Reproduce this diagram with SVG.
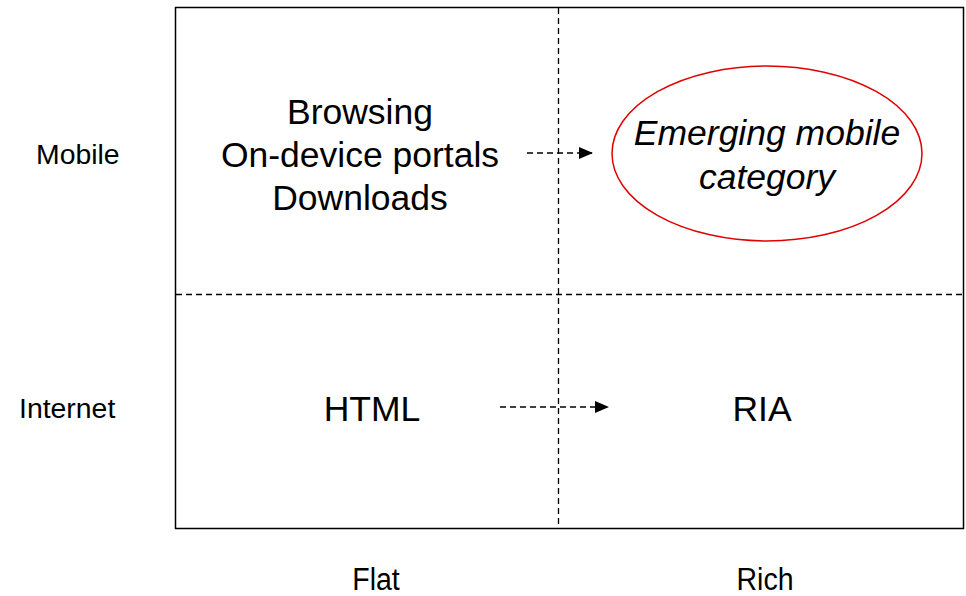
<svg xmlns="http://www.w3.org/2000/svg" width="966" height="596" viewBox="0 0 966 596">
<style>
text{font-family:"Liberation Sans",Arial,sans-serif;fill:#000}
.big{font-size:35.5px;text-anchor:middle}
.lab{font-size:28.4px}
.ax{font-size:31px;text-anchor:middle}
.dash{stroke:#000;stroke-width:1.3;stroke-dasharray:6,4;fill:none}
</style>
<defs>
<marker id="ah" markerWidth="14" markerHeight="12" refX="13" refY="6" orient="auto" markerUnits="userSpaceOnUse">
<path d="M0,0 L14,6 L0,12 Z" fill="#000"/>
</marker>
</defs>
<g id="frame">
<rect x="175.5" y="7.5" width="788" height="521" fill="none" stroke="#000" stroke-width="1.5"/>
<line class="dash" x1="558.5" y1="8" x2="558.5" y2="528"/>
<line class="dash" x1="176" y1="294.5" x2="963" y2="294.5"/>
</g>
<g id="connectors">
<line class="dash" x1="527" y1="153" x2="592" y2="153" marker-end="url(#ah)"/>
<line class="dash" x1="500" y1="407" x2="608" y2="407" marker-end="url(#ah)"/>
</g>
<g id="mobile-flat">
<text class="big" x="360" y="124">Browsing</text>
<text class="big" x="360" y="167">On-device portals</text>
<text class="big" x="360" y="210">Downloads</text>
</g>
<g id="mobile-rich">
<ellipse cx="767" cy="153.5" rx="155" ry="87.5" fill="none" stroke="#e00000" stroke-width="1.5"/>
<text class="big" x="767" y="145" font-style="italic">Emerging mobile</text>
<text class="big" x="767" y="189" font-style="italic">category</text>
</g>
<g id="internet-flat"><text class="big" x="372" y="421">HTML</text></g>
<g id="internet-rich"><text class="big" x="762" y="421">RIA</text></g>
<g id="row-labels">
<text class="lab" x="36" y="164">Mobile</text>
<text class="lab" x="19" y="418">Internet</text>
</g>
<g id="col-labels">
<text class="ax" x="376" y="590" transform="translate(376,0) scale(0.92,1) translate(-376,0)">Flat</text>
<text class="ax" x="765" y="590" transform="translate(765,0) scale(0.92,1) translate(-765,0)">Rich</text>
</g>
</svg>
